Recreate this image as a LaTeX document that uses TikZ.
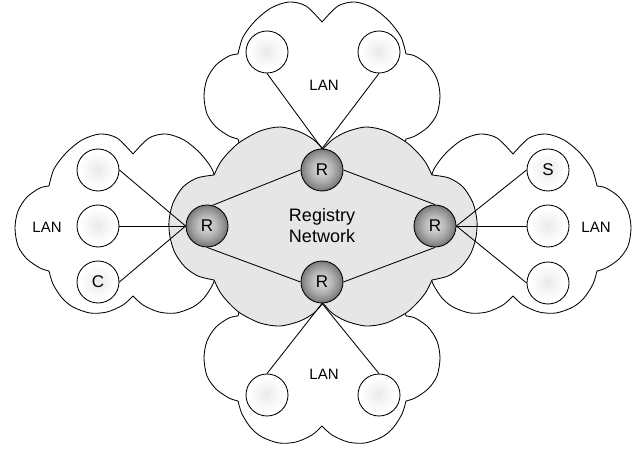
\documentclass[tikz,border=0pt]{standalone}
\usepackage{fontspec}
\setmainfont{Liberation Sans}
\definecolor{cloudgray}{HTML}{E6E6E6}
\definecolor{rA}{HTML}{D6D6D6}
\definecolor{rC}{HTML}{747474}
\definecolor{hA}{HTML}{EAEAEA}
\newcommand\lancloud{%
  plot[smooth] coordinates {(-84,-40) (-79,-57) (-67,-73) (-51,-86) (-33,-92) (-16,-88) (0,-72)}
  -- plot[smooth] coordinates {(0,-72) (16,-88) (33,-92) (51,-86) (67,-73) (79,-57) (84,-40)}
  -- plot[smooth] coordinates {(84,-40) (93,-38) (106,-29) (115,-15) (118,2) (115,20) (106,33) (93,42) (84,45)}
  -- plot[smooth] coordinates {(84,45) (80,58) (71,72) (60,81) (43,87) (26,86) (10,79) (0,70)}
  -- plot[smooth] coordinates {(0,70) (-10,79) (-26,86) (-43,87) (-60,81) (-71,72) (-80,58) (-84,45)}
  -- plot[smooth] coordinates {(-84,45) (-93,42) (-106,33) (-115,20) (-118,2) (-115,-15) (-106,-29) (-93,-38) (-84,-40)}
  -- cycle}
\newcommand\regcloud{%
  plot[smooth] coordinates {(-109,-50) (-103,-62) (-95,-72) (-83,-83) (-63,-94) (-43,-98) (-23,-93) (-9,-85) (0,-76)}
  -- plot[smooth] coordinates {(0,-76) (9,-85) (23,-93) (43,-98) (63,-94) (83,-83) (95,-72) (103,-62) (109,-50)}
  -- plot[smooth] coordinates {(109,-50) (126,-47) (140,-38) (150,-22) (154,-4) (153,12) (148,28) (138,42) (125,51) (109,55)}
  -- plot[smooth] coordinates {(109,55) (103,67) (95,77) (83,88) (63,98) (43,101) (23,96) (9,88) (0,78)}
  -- plot[smooth] coordinates {(0,78) (-9,88) (-23,96) (-43,101) (-63,98) (-83,88) (-95,77) (-103,67) (-109,55)}
  -- plot[smooth] coordinates {(-109,55) (-125,51) (-138,42) (-148,28) (-153,12) (-154,-4) (-150,-22) (-140,-38) (-126,-47) (-109,-50)}
  -- cycle}
\tikzset{
  outline/.style={draw=black, line width=0.85pt, line join=round},
  routerfill/.style={path picture={%
    \foreach \i in {0,...,29}{%
      \pgfmathsetmacro\ff{1-\i/30}%
      \pgfmathtruncatemacro\pp{100*\ff^1.6}%
      \fill[rC!\pp!rA] (path picture bounding box.center) circle[radius=\ff*21.5pt];}}},
  hostfill/.style={path picture={%
    \foreach \i in {0,...,29}{%
      \pgfmathsetmacro\ff{1-\i/30}%
      \pgfmathtruncatemacro\pp{min(100,100*\ff/0.8)}%
      \fill[white!\pp!hA] (path picture bounding box.center) circle[radius=\ff*21.5pt];}}},
  router/.style={circle, draw=black, line width=0.85pt, minimum size=42pt, inner sep=0pt,
    routerfill, font=\fontsize{17}{20}\selectfont},
  host/.style={circle, draw=black, line width=0.85pt, minimum size=42pt, inner sep=0pt,
    hostfill, font=\fontsize{17}{20}\selectfont},
  lantext/.style={font=\fontsize{15}{18}\selectfont, inner sep=0pt},
  link/.style={draw=black, line width=0.85pt}
}
\begin{document}
\begin{tikzpicture}[x=1pt,y=-1pt]
\useasboundingbox (0,0) rectangle (634,449);
% LAN clouds
\draw[outline, shift={(133,226)}] \lancloud;
\draw[outline, shift={(322,94)}] \lancloud;
\draw[outline, shift={(513,226)}] \lancloud;
\draw[outline, shift={(322,356)}] \lancloud;
% registry cloud
\draw[outline, fill=cloudgray, shift={(323,225)}] \regcloud;
% texts
\node[lantext] (lanL) at (47,227) {LAN};
\node[lantext] (lanT) at (324,85) {LAN};
\node[lantext] (lanR) at (596,227) {LAN};
\node[lantext] (lanB) at (324,374) {LAN};
\node[font=\fontsize{18}{21}\selectfont, align=center, inner sep=0pt] (reg) at (322,226) {Registry\\Network};
% routers
\node[router] (rL) at (207,226) {R};
\node[router] (rT) at (322,170) {R};
\node[router] (rR) at (435,226) {R};
\node[router] (rB) at (322,282) {R};
% hosts
\node[host] (l1) at (98,170) {};
\node[host] (l2) at (98,226) {};
\node[host] (l3) at (98,282) {C};
\node[host] (r1) at (548,170) {S};
\node[host] (r2) at (548,226) {};
\node[host] (r3) at (548,283) {};
\node[host] (t1) at (267,52) {};
\node[host] (t2) at (379,52) {};
\node[host] (b1) at (267,395) {};
\node[host] (b2) at (379,395) {};
% links
\draw[link] (l1.east) -- (rL.west);
\draw[link] (l2.east) -- (rL.west);
\draw[link] (l3.east) -- (rL.west);
\draw[link] (rR.east) -- (r1.west);
\draw[link] (rR.east) -- (r2.west);
\draw[link] (rR.east) -- (r3.west);
\draw[link] (t1.south) -- (rT.north);
\draw[link] (t2.south) -- (rT.north);
\draw[link] (rB.south) -- (b1.north);
\draw[link] (rB.south) -- (b2.north);
\draw[link] (rL.75) -- (rT.west);
\draw[link] (rT.east) -- (rR.north);
\draw[link] (rL.south) -- (rB.west);
\draw[link] (rB.east) -- (rR.south);
\end{tikzpicture}
\end{document}
